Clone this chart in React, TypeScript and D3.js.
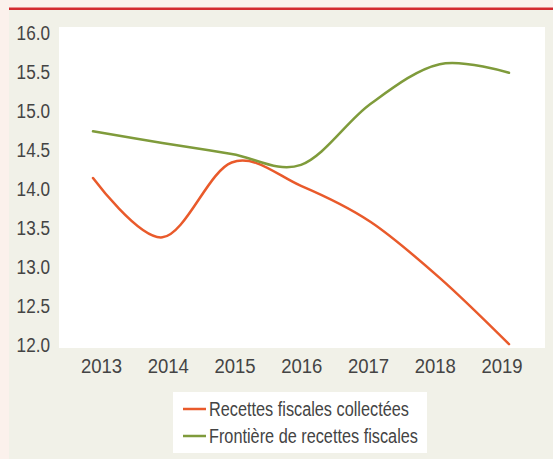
import React from "react";
import * as d3 from "d3";

const years = ["2013", "2014", "2015", "2016", "2017", "2018", "2019"];
const collected = [14.14, 13.38, 14.34, 14.04, 13.58, 12.86, 12.01];
const frontier = [14.74, 14.59, 14.45, 14.31, 15.09, 15.6, 15.49];
const yTicks = [12.0, 12.5, 13.0, 13.5, 14.0, 14.5, 15.0, 15.5, 16.0];
const seriesNames = ["Recettes fiscales collectées", "Frontière de recettes fiscales"];
const seriesColors = ["#e95a2b", "#7f9b3b"];

const W = 553;
const H = 459;
const FONT = "'Liberation Sans', Arial, sans-serif";
const TEXT = "#444444";

export default function App() {
  const y = d3.scaleLinear().domain([12, 16]).range([345, 33]);
  const xLine = d3.scalePoint<string>().domain(years).range([93, 509]);
  const xLabel = d3.scalePoint<string>().domain(years).range([101.5, 502]);
  const line = d3
    .line<number>()
    .x((_, i) => xLine(years[i]) as number)
    .y((d) => y(d))
    .curve(d3.curveCatmullRom.alpha(0));
  const series = [collected, frontier];

  return (
    <svg
      width={W}
      height={H}
      style={{ position: "absolute", left: 0, top: 0, display: "block" }}
      fontFamily={FONT}
    >
      <rect x={0} y={0} width={W} height={H} fill="#fbf1ec" />
      <rect x={9} y={8} width={W - 9} height={H - 8} fill="#f1f1e8" />
      <rect x={9} y={7.5} width={W - 9} height={2.5} fill="#d42a30" />
      <rect x={59} y={27} width={486} height={321} fill="#ffffff" />
      {yTicks.map((t) => (
        <text
          key={t}
          transform={`translate(50,${y(t)}) scale(0.88,1)`}
          dy="0.35em"
          textAnchor="end"
          fontSize={19.5}
          fill={TEXT}
        >
          {t.toFixed(1)}
        </text>
      ))}
      {years.map((yr) => (
        <text
          key={yr}
          transform={`translate(${xLabel(yr)},366) scale(0.95,1)`}
          dy="0.35em"
          textAnchor="middle"
          fontSize={19.5}
          fill={TEXT}
        >
          {yr}
        </text>
      ))}
      {series.map((s, i) => (
        <path
          key={i}
          d={line(s) || ""}
          fill="none"
          stroke={seriesColors[i]}
          strokeWidth={2.5}
          strokeLinecap="round"
        />
      ))}
      <rect x={173} y={392} width={254} height={61} fill="#ffffff" />
      {seriesNames.map((n, i) => (
        <g key={n}>
          <line
            x1={183}
            x2={206}
            y1={409 + i * 27}
            y2={409 + i * 27}
            stroke={seriesColors[i]}
            strokeWidth={2.5}
          />
          <text
            transform={`translate(209,${409 + i * 27}) scale(0.835,1)`}
            dy="0.35em"
            fontSize={19.5}
            fill={TEXT}
          >
            {n}
          </text>
        </g>
      ))}
    </svg>
  );
}
